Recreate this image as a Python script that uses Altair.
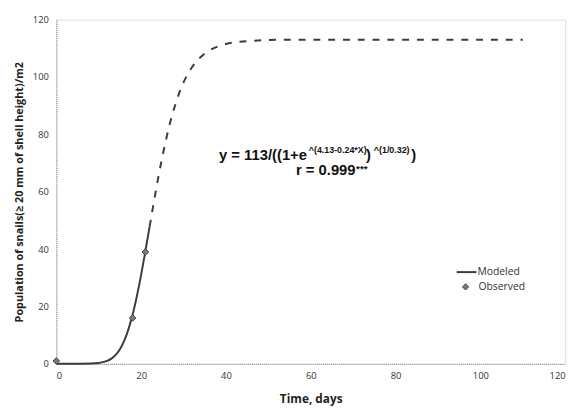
import altair as alt
import pandas as pd

# Modeled curve
mod_x = [0, 2, 4, 6, 8, 10, 12, 13, 14, 15, 16, 17, 18, 19, 20, 21, 22,
         23, 24, 25, 26, 27, 28, 29, 30, 32, 34, 36, 38, 40, 43, 46, 50, 55, 60, 70, 80, 90, 100, 110]
mod_y = [0.0, 0.0, 0.01, 0.02, 0.08, 0.3, 1.0, 1.8, 3.1, 5.1, 8.0, 12.0, 17.2, 23.6, 31.0, 39.3, 47.8,
         56.4, 64.6, 72.2, 79.0, 85.0, 90.1, 94.5, 98.1, 103.4, 106.9, 109.2, 110.6, 111.5, 112.3, 112.6, 112.9, 113.0, 113.0, 113.0, 113.0, 113.0, 113.0, 113.0]
solid_until = 22

# Observed
obs_x = [0, 18, 21]
obs_y = [1, 16, 39]

mod = pd.DataFrame({"x": mod_x, "y": mod_y})
solid = mod[mod.x <= solid_until]
dashed = mod[mod.x >= solid_until]
obs = pd.DataFrame({"x": obs_x, "y": obs_y})

W, H = 516, 349
LINE = "#3c3c3c"
LABEL_FONT = "Open Sans"
EQ_FONT = "Liberation Sans"

xs = alt.Scale(domain=[0, 120], nice=False)
ys = alt.Scale(domain=[0, 120], nice=False)

x_axis = alt.Axis(values=[0, 20, 40, 60, 80, 100, 120], title="Time, days", ticks=False,
                  labelPadding=7, grid=False, domainDash=[1, 1], domainColor="#8a8a8a",
                  labelFont=LABEL_FONT, labelFontSize=9.5, labelColor="#333333",
                  titleFont=LABEL_FONT, titleFontSize=12, titleFontWeight="bold",
                  titleColor="#222222", titlePadding=14)
y_axis = alt.Axis(values=[0, 20, 40, 60, 80, 100, 120],
                  title="Population of snails(\u2265 20 mm of shell height)/m2", ticks=False,
                  labelPadding=8, grid=False, domainDash=[1, 1], domainColor="#8a8a8a",
                  labelFont=LABEL_FONT, labelFontSize=9.5, labelColor="#333333",
                  titleFont=LABEL_FONT, titleFontSize=11, titleFontWeight="bold",
                  titleColor="#222222", titlePadding=8)

base_solid = alt.Chart(solid).mark_line(color=LINE, strokeWidth=2, interpolate="monotone").encode(
    x=alt.X("x:Q", scale=xs, axis=x_axis),
    y=alt.Y("y:Q", scale=ys, axis=y_axis),
)
base_dashed = alt.Chart(dashed).mark_line(color=LINE, strokeWidth=2, strokeDash=[7, 8],
                                          interpolate="monotone").encode(
    x=alt.X("x:Q", scale=xs), y=alt.Y("y:Q", scale=ys))
points = alt.Chart(obs).mark_point(shape="diamond", filled=True, size=45, color="#7a7a7a",
                                   stroke="#444444", strokeWidth=1, opacity=1).encode(
    x=alt.X("x:Q", scale=xs), y=alt.Y("y:Q", scale=ys))

one = pd.DataFrame({"a": [0]})


def txt(s, px, py, size, bold=True, font=EQ_FONT, baseline="alphabetic", color="#111111"):
    return alt.Chart(one).mark_text(text=s, align="left", baseline=baseline, font=font,
                                    fontSize=size, fontWeight="bold" if bold else "normal",
                                    color=color).encode(x=alt.value(px), y=alt.value(py))


eq = [
    txt("y = 113/((1+e", 165, 142, 15),
    txt("^(4.13-0.24*X)", 256, 135, 9),
    txt(")", 314, 142, 15),
    txt("^(1/0.32)", 322, 135, 9),
    txt(")", 360, 142, 15),
    txt("r = 0.999", 243, 158, 15),
    txt("***", 304, 154, 10),
]

leg_line = alt.Chart(one).mark_rule(color=LINE, strokeWidth=2).encode(
    x=alt.value(406), x2=alt.value(426), y=alt.value(256))
leg_pt = alt.Chart(one).mark_point(shape="diamond", filled=True, size=40, color="#7a7a7a",
                                   stroke="#444444", strokeWidth=1, opacity=1).encode(
    x=alt.value(415), y=alt.value(271))
leg_t1 = txt("Modeled", 427, 256, 10.5, bold=False, font=LABEL_FONT, baseline="middle", color="#333333")
leg_t2 = txt("Observed", 428, 271, 10.5, bold=False, font=LABEL_FONT, baseline="middle", color="#333333")

chart = alt.layer(base_solid, base_dashed, points, *eq, leg_line, leg_pt, leg_t1, leg_t2).properties(
    width=W, height=H,
    autosize=alt.AutoSizeParams(type="none"),
    padding={"left": 49, "top": 9, "right": 12, "bottom": 44},
).configure_view(stroke=None).configure(background="white")

chart.save("out.html", embed_options={"renderer": "svg", "actions": False})
